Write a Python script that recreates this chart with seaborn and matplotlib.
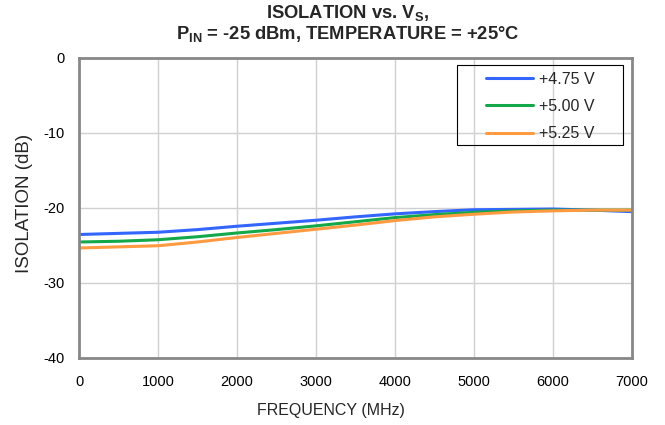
import matplotlib
matplotlib.use("Agg")
import matplotlib.pyplot as plt
from matplotlib.patches import Rectangle
import seaborn as sns
import pandas as pd

freq = [0, 500, 1000, 1500, 2000, 2500, 3000, 3500, 4000, 4500, 5000, 5500, 6000, 6500, 7000]
iso_475 = [-23.6, -23.45, -23.3, -22.95, -22.5, -22.1, -21.7, -21.25, -20.85, -20.55, -20.3, -20.25, -20.2, -20.35, -20.55]
iso_500 = [-24.6, -24.5, -24.3, -23.9, -23.4, -22.95, -22.45, -21.9, -21.35, -20.95, -20.65, -20.45, -20.35, -20.35, -20.35]
iso_525 = [-25.4, -25.25, -25.1, -24.6, -24.0, -23.45, -22.9, -22.35, -21.75, -21.25, -20.9, -20.6, -20.45, -20.35, -20.35]
labels = ["+4.75 V", "+5.00 V", "+5.25 V"]
colors = ["#3366ff", "#13a84a", "#ff9a40"]

rows = []
for lab, vals in zip(labels, [iso_475, iso_500, iso_525]):
    for f, v in zip(freq, vals):
        rows.append({"freq": f, "iso": v, "supply": lab})
df = pd.DataFrame(rows)

sns.set_theme(style="white")
plt.rcParams["font.family"] = ["Liberation Sans", "DejaVu Sans"]
plt.rcParams["axes.unicode_minus"] = False

W, H = 665, 425
L, R, T, B = 79, 631.5, 57.5, 357.5
fig = plt.figure(figsize=(W / 100, H / 100), dpi=100)
ax = fig.add_axes([L / W, 1 - B / H, (R - L) / W, (B - T) / H])

sns.lineplot(data=df, x="freq", y="iso", hue="supply", palette=colors,
             linewidth=2.2, ax=ax, legend=True)

ax.set_xlim(0, 7000)
ax.set_ylim(-40, 0)
ax.set_xticks(range(0, 7001, 1000))
ax.set_yticks(range(-40, 1, 10))
ax.grid(True, color="#d0d0d0", linewidth=1.0)
ax.set_axisbelow(True)
for s in ax.spines.values():
    s.set_color("#888888")
    s.set_linewidth(2.0)
ax.tick_params(axis="both", length=0, labelsize=10.5, colors="black")
ax.tick_params(axis="x", pad=12.5)
ax.tick_params(axis="y", pad=10)
ax.set_xlabel("FREQUENCY (MHz)", fontsize=11.5)
ax.set_ylabel("ISOLATION (dB)", fontsize=13.5)
ax.xaxis.set_label_coords((331 - L) / (R - L), -(403 - B) / (B - T))
ax.yaxis.set_label_coords(-(L - 33) / (R - L), 1 - (203 - T) / (B - T))

leg = ax.legend(loc="center", bbox_to_anchor=((540 - L) / (R - L), 1 - (106.5 - T) / (B - T)),
                frameon=False, fontsize=11.5,
                handlelength=2.95, borderpad=0.3, labelspacing=0.76, handletextpad=0.35)
fig.patches.append(Rectangle((457 / W, 1 - 145 / H), (623 - 457) / W, 80 / H,
                             transform=fig.transFigure, fill=False,
                             edgecolor="black", linewidth=0.8, zorder=10))

fig.text(348 / W, 1 - 13 / H, "ISOLATION vs. V$_\\mathregular{S}$,", ha="center", va="center",
         fontsize=13.2, fontweight="bold")
fig.text(348 / W, 1 - 34 / H, "P$_\\mathregular{IN}$ = -25 dBm, TEMPERATURE = +25°C", ha="center", va="center",
         fontsize=13.2, fontweight="bold")

fig.savefig("out.png", dpi=100)
